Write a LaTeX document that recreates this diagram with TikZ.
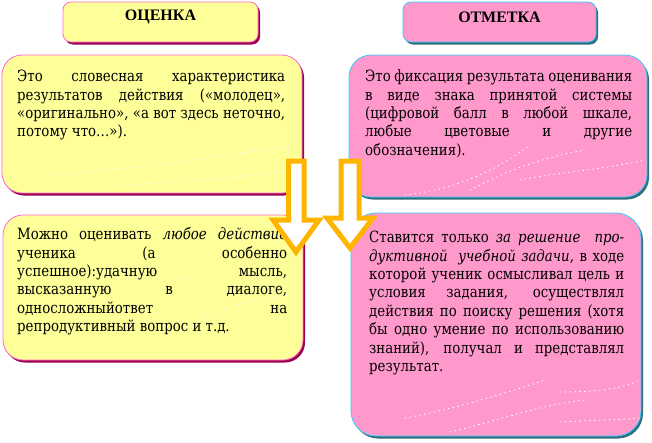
\documentclass[tikz,border=0pt]{standalone}
\usepackage{fontspec}
\setmainfont{DejaVu Serif}[FakeStretch=0.86]
\newfontfamily\headfont{Liberation Serif}
\usetikzlibrary{shadows}
\definecolor{yfill}{HTML}{FFFF99}
\definecolor{pfill}{HTML}{FF99CC}
\definecolor{yedge}{HTML}{FF66CC}
\definecolor{pedge}{HTML}{33CCFF}
\definecolor{yshad}{HTML}{99004D}
\definecolor{pshad}{HTML}{2F6F7F}
\definecolor{arrcol}{HTML}{FFB400}
\begin{document}
\begin{tikzpicture}[x=1pt,y=-1pt,
  ybox/.style={draw=yedge, fill=yfill, line width=0.8pt, inner sep=0pt,
    general shadow={shadow xshift=2pt, shadow yshift=-2.5pt, fill=yshad}},
  pbox/.style={draw=pedge, fill=pfill, line width=0.8pt, inner sep=0pt,
    general shadow={shadow xshift=2pt, shadow yshift=-2.5pt, fill=pshad}},
  headtxt/.style={font=\headfont\fontsize{16}{19}\selectfont\bfseries, inner sep=0pt},
  bodytxt/.style={anchor=north west, inner sep=0pt, align=justify,
    font=\fontsize{15.5}{18.4}\selectfont},
  sparkle/.style={white, line width=0.9pt, dash pattern=on 0.9pt off 4pt, line cap=round},
  arrowshape/.style={draw=arrcol, fill=white, line width=5pt, line join=miter}]
\useasboundingbox (0,0) rectangle (652,442);
% header boxes
\node[ybox, rounded corners=8pt, minimum width=195pt, minimum height=40pt] (hl) at (160.5,22) {};
\node[headtxt] (hlt) at (160.5,17) {ОЦЕНКА};
\node[pbox, rounded corners=8pt, minimum width=193pt, minimum height=40pt] (hr) at (499.5,22) {};
\node[headtxt] (hrt) at (499.5,17) {ОТМЕТКА};
% content boxes
\node[ybox, rounded corners=20pt, minimum width=300pt, minimum height=138pt] (l1) at (152,124) {};
\node[pbox, rounded corners=22pt, minimum width=298pt, minimum height=142pt] (r1) at (498,126) {};
\node[ybox, rounded corners=20pt, minimum width=300pt, minimum height=145pt] (l2) at (153,287.5) {};
\node[pbox, rounded corners=25pt, minimum width=290pt, minimum height=223pt] (r2) at (496,324.5) {};
% decorative sparkles
\draw[sparkle] (405,195) .. controls (450,190) and (490,175) .. (530,145);
\draw[sparkle] (470,190) .. controls (500,175) and (530,160) .. (585,150);
\draw[sparkle] (520,180) .. controls (560,172) and (600,170) .. (645,160);
\draw[sparkle] (50,175) .. controls (120,170) and (200,160) .. (295,145);
\draw[sparkle] (120,185) .. controls (180,182) and (240,178) .. (295,170);
\draw[sparkle] (405,418) .. controls (450,410) and (500,395) .. (545,380);
\draw[sparkle] (450,432) .. controls (500,420) and (540,405) .. (585,400);
\draw[sparkle] (560,392) .. controls (590,392) and (620,390) .. (640,380);
\draw[sparkle] (560,422) .. controls (590,420) and (620,420) .. (640,418);
\draw[sparkle] (180,280) .. controls (200,270) and (215,260) .. (230,245);
\draw[sparkle] (185,330) .. controls (205,315) and (240,300) .. (290,295);
% texts
\node[bodytxt, text width=268pt] (l1t) at (17,68.7) {\tolerance=10000\hyphenpenalty=10000\strut
Это словесная характеристика\linebreak результатов действия («молодец»,\linebreak «оригинально», «а вот здесь неточно,\linebreak потому что…»).};
\node[bodytxt, text width=267pt] (r1t) at (365,68.7) {\tolerance=10000\hyphenpenalty=10000\strut
Это фиксация результата оценивания\linebreak в виде знака принятой системы\linebreak (цифровой балл в любой шкале,\linebreak любые цветовые и другие\linebreak обозначения).};
\node[bodytxt, text width=270pt] (l2t) at (17,226.7) {\tolerance=10000\hyphenpenalty=10000\strut
Можно оценивать \textit{любое действие}\linebreak ученика (а особенно\linebreak успешное):удачную мысль,\linebreak высказанную в диалоге,\linebreak односложныйответ на\linebreak репродуктивный вопрос и т.д.};
\node[bodytxt, text width=255pt] (r2t) at (369,229.7) {\tolerance=10000\hyphenpenalty=10000\strut
Ставится только \textit{за решение\ \ про-}\linebreak \textit{дуктивной\ \ учебной задачи}, в ходе\linebreak которой ученик осмысливал цель и\linebreak условия задания, осуществлял\linebreak действия по поиску решения (хотя\linebreak бы одно умение по использованию\linebreak знаний), получал и представлял\linebreak результат.};
% arrows
\draw[arrowshape] (288.5,161) -- (304,161) -- (304,220) -- (319,220) -- (296,252)
  -- (273,220) -- (288.5,220) -- cycle;
\draw[arrowshape] (341,161) -- (359,161) -- (359,218) -- (373,218) -- (350,248)
  -- (327,218) -- (341,218) -- cycle;
\end{tikzpicture}
\end{document}
